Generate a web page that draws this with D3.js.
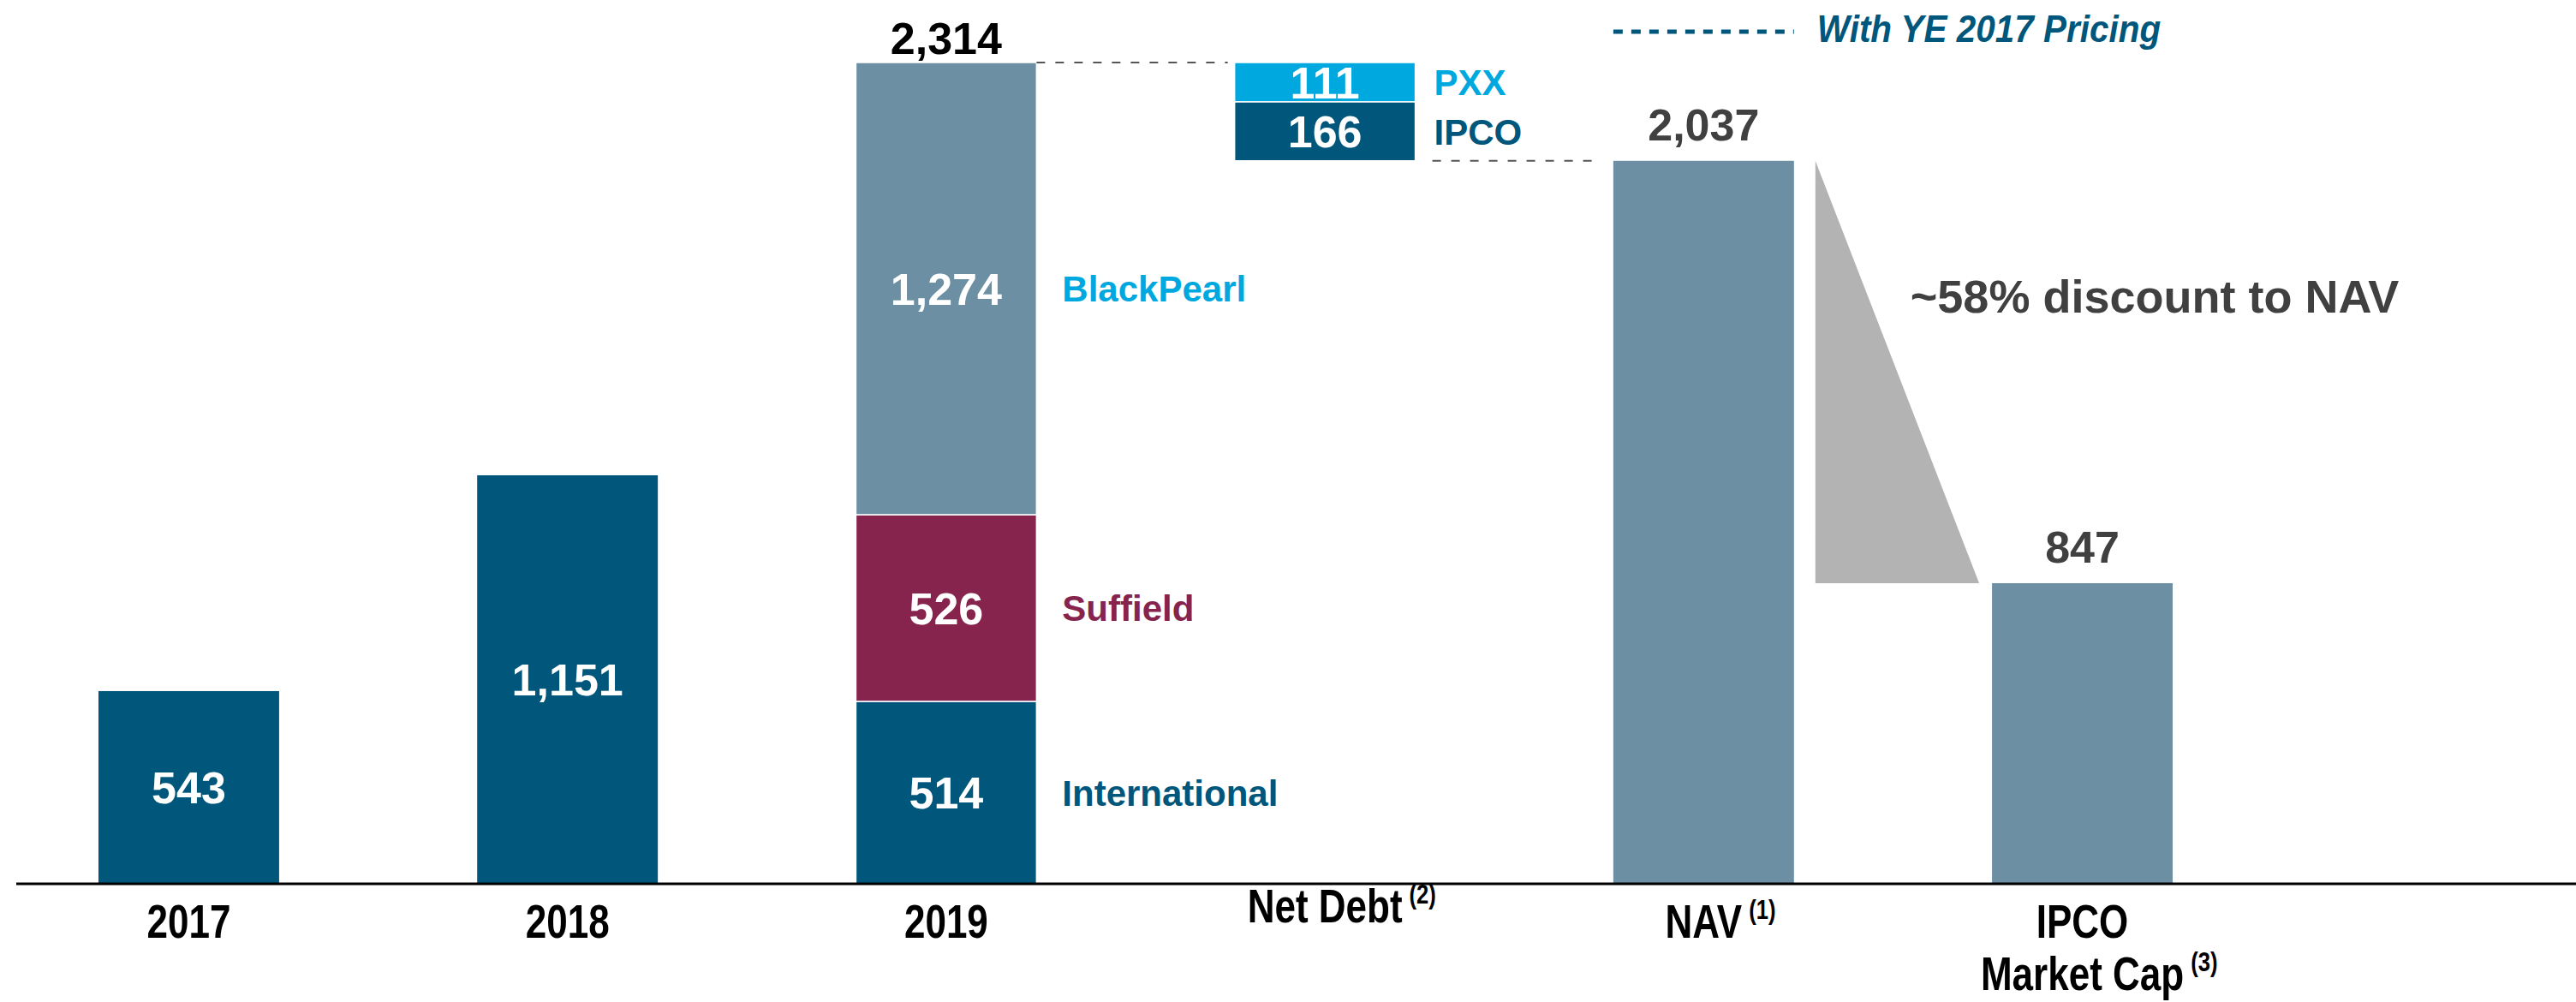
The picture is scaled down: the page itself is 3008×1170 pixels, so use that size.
<!DOCTYPE html>
<html>
<head>
<meta charset="utf-8">
<script src="https://cdn.jsdelivr.net/npm/d3@7"></script>
<style>
body { margin: 0; background: #fff; }
text { font-family: "Liberation Sans", Arial, sans-serif; font-weight: bold; }
</style>
</head>
<body>
<svg id="chart"></svg>
<script>
// chart data
var categories = ["2017", "2018", "2019", "Net Debt", "NAV", "IPCO Market Cap"];
var categoryLines = [["2017"], ["2018"], ["2019"], ["Net Debt"], ["NAV"], ["IPCO", "Market Cap"]];
var categoryNotes = ["", "", "", "(2)", "(1)", "(3)"];

var yearCats = ["2017", "2018"];
var yearValues = [543, 1151];

var segNames = ["International", "Suffield", "BlackPearl"];
var segValues = [514, 526, 1274];

var debtNames = ["PXX", "IPCO"];
var debtValues = [111, 166];

var marketCap = 847;
var pricingNote = "With YE 2017 Pricing";

// colours
var navy = "#00567B", slate = "#6C8FA3", maroon = "#86244E", cyan = "#00A8E0";
var segColours = [navy, maroon, slate];
var segLabelColours = [navy, maroon, cyan];
var debtColours = [cyan, navy];

var W = 3008, H = 1170;
var fmt = d3.format(",");
var squeeze = 0.8; // condensed look for the axis labels

var svg = d3.select("#chart").attr("width", W).attr("height", H);

var total2019 = d3.sum(segValues);
var nav = total2019 - d3.sum(debtValues);

var x = d3.scaleBand()
    .domain(categories)
    .range([0, 2652])
    .paddingInner(0.523)
    .paddingOuter(0.26);
var y = d3.scaleLinear().domain([0, total2019]).range([1032, 73]);
var bw = x.bandwidth();

function valueLabel(cx, yTop, yBot, txt) {
    svg.append("text")
        .attr("x", cx)
        .attr("y", (yTop + yBot) / 2)
        .attr("dy", "0.36em")
        .attr("text-anchor", "middle")
        .style("fill", "#fff")
        .style("font-size", "52px")
        .text(txt);
}

// text squeezed horizontally around its anchor point
function narrowText(px, py, anchor, size, sx) {
    return svg.append("text")
        .attr("transform", "translate(" + px + "," + py + ") scale(" + sx + ",1)")
        .attr("text-anchor", anchor)
        .style("font-size", size + "px");
}

// 2017 / 2018 bars
yearCats.forEach(function (c, i) {
    svg.append("rect")
        .attr("x", x(c))
        .attr("y", y(yearValues[i]))
        .attr("width", bw)
        .attr("height", y(0) - y(yearValues[i]))
        .style("fill", navy);
    valueLabel(x(c) + bw / 2, y(yearValues[i]), y(0), fmt(yearValues[i]));
});

// 2019 stacked bar
var cum = 0;
segValues.forEach(function (v, i) {
    var y0 = y(cum), y1 = y(cum + v);
    svg.append("rect")
        .attr("x", x("2019"))
        .attr("y", y1)
        .attr("width", bw)
        .attr("height", y0 - y1)
        .style("fill", segColours[i])
        .style("stroke", "#fff")
        .style("stroke-width", 1.5);
    valueLabel(x("2019") + bw / 2, y1, y0, fmt(v));
    svg.append("text")
        .attr("x", x("2019") + bw + 30)
        .attr("y", (y0 + y1) / 2)
        .attr("dy", "0.36em")
        .style("fill", segLabelColours[i])
        .style("font-size", "42px")
        .text(segNames[i]);
    cum += v;
});

svg.append("text")
    .attr("x", x("2019") + bw / 2)
    .attr("y", y(total2019) - 10)
    .attr("text-anchor", "middle")
    .style("fill", "#000")
    .style("font-size", "52px")
    .text(fmt(total2019));

// net debt waterfall
var level = total2019;
debtValues.forEach(function (v, i) {
    var y0 = y(level), y1 = y(level - v);
    svg.append("rect")
        .attr("x", x("Net Debt"))
        .attr("y", y0)
        .attr("width", bw)
        .attr("height", y1 - y0)
        .style("fill", debtColours[i])
        .style("stroke", "#fff")
        .style("stroke-width", 1.5);
    valueLabel(x("Net Debt") + bw / 2, y0, y1, fmt(v));
    svg.append("text")
        .attr("x", x("Net Debt") + bw + 22)
        .attr("y", (y0 + y1) / 2)
        .attr("dy", "0.36em")
        .style("fill", debtColours[i])
        .style("font-size", "42px")
        .text(debtNames[i]);
    level -= v;
});

// dashed connectors
svg.append("line")
    .attr("x1", x("2019") + bw).attr("x2", x("Net Debt") - 8)
    .attr("y1", y(total2019)).attr("y2", y(total2019))
    .style("stroke", "#555").style("stroke-width", 2)
    .style("stroke-dasharray", "10,12");
svg.append("line")
    .attr("x1", x("Net Debt") + bw + 20).attr("x2", x("NAV") - 22)
    .attr("y1", y(nav)).attr("y2", y(nav))
    .style("stroke", "#555").style("stroke-width", 2)
    .style("stroke-dasharray", "10,12");

// NAV and market cap bars
[["NAV", nav], ["IPCO Market Cap", marketCap]].forEach(function (d) {
    svg.append("rect")
        .attr("x", x(d[0]))
        .attr("y", y(d[1]))
        .attr("width", bw)
        .attr("height", y(0) - y(d[1]))
        .style("fill", slate);
    svg.append("text")
        .attr("x", x(d[0]) + bw / 2)
        .attr("y", y(d[1]) - 24)
        .attr("text-anchor", "middle")
        .style("fill", "#404040")
        .style("font-size", "52px")
        .text(fmt(d[1]));
});

// discount wedge
var tx1 = x("NAV") + bw + 25, tx2 = x("IPCO Market Cap") - 15;
svg.append("path")
    .attr("d", d3.line()([[tx1, y(nav)], [tx1, y(marketCap)], [tx2, y(marketCap)]]) + "Z")
    .style("fill", "#B3B3B3");

svg.append("text")
    .attr("x", x("NAV") + bw + 136)
    .attr("y", 365)
    .style("fill", "#404040")
    .style("font-size", "54px")
    .text("~" + Math.round((1 - marketCap / nav) * 100) + "% discount to NAV");

// pricing legend
svg.append("line")
    .attr("x1", x("NAV")).attr("x2", x("NAV") + bw)
    .attr("y1", 37).attr("y2", 37)
    .style("stroke", navy).style("stroke-width", 5)
    .style("stroke-dasharray", "11,10");
narrowText(x("NAV") + bw + 27, 49, "start", 44, 0.92)
    .style("fill", navy)
    .style("font-style", "italic")
    .text(pricingNote);

// axis line
svg.append("line")
    .attr("x1", 19).attr("x2", W)
    .attr("y1", y(0)).attr("y2", y(0))
    .style("stroke", "#000").style("stroke-width", 3);

// category labels
categories.forEach(function (c, i) {
    var cx = x(c) + bw / 2;
    var lines = categoryLines[i];
    lines.forEach(function (line, j) {
        var base = (c == "Net Debt" ? 1077 : 1095) + j * 61;
        var t = narrowText(cx, base, "middle", 55, squeeze)
            .style("fill", "#000")
            .text(line);
        if (j == lines.length - 1 && categoryNotes[i]) {
            var w = t.node().getComputedTextLength() * squeeze;
            narrowText(cx + w / 2 + 8, base - 22, "start", 32, squeeze)
                .style("fill", "#000")
                .text(categoryNotes[i]);
        }
    });
});
</script>
</body>
</html>
